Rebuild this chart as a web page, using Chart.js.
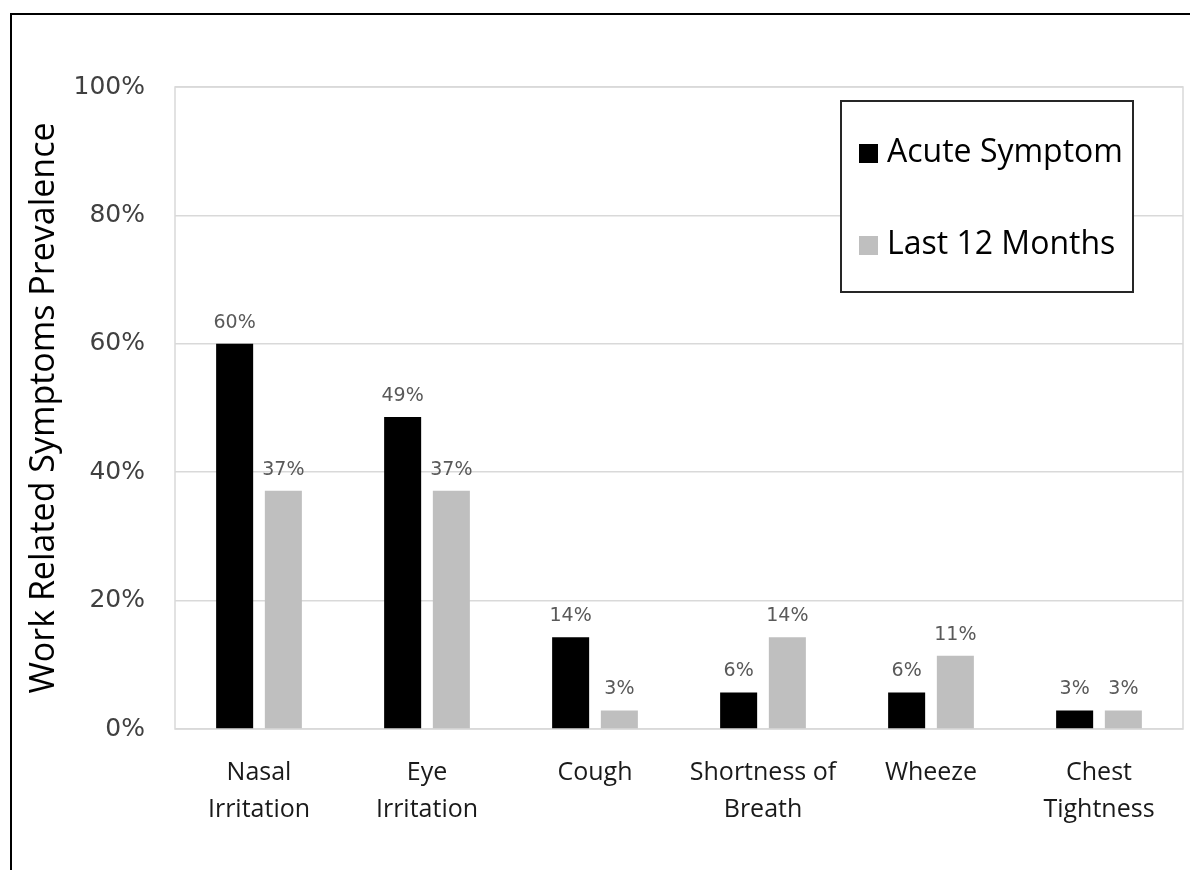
<!DOCTYPE html>
<html lang="en">
<head>
    <meta charset="UTF-8">
    <title>Work Related Symptoms Prevalence</title>
    <script src="https://cdn.jsdelivr.net/npm/chart.js"></script>
    <style>
        html, body { margin: 0; padding: 0; overflow: hidden; background: #fff; }
        #wrap { position: relative; width: 1190px; height: 870px; }
        #frame { position: absolute; left: 10px; top: 13px; width: 1300px; height: 1000px;
                 border-left: 2px solid #000; border-top: 2px solid #000; pointer-events: none; }
    </style>
</head>
<body>
    <div id="wrap">
        <canvas id="symptomChart" width="1190" height="870"></canvas>
        <div id="frame"></div>
    </div>

    <script>
        // categories and series (percent)
        const categories = [
            ['Nasal', 'Irritation'],
            ['Eye', 'Irritation'],
            'Cough',
            ['Shortness of', 'Breath'],
            'Wheeze',
            ['Chest', 'Tightness']
        ];
        const acuteSymptom = [60.0, 48.6, 14.3, 5.7, 5.7, 2.9];
        const last12Months = [37.1, 37.1, 2.9, 14.3, 11.4, 2.9];
        const seriesNames = ['Acute Symptom', 'Last 12 Months'];
        const yTicks = [0, 20, 40, 60, 80, 100];

        // light frame around the plot area
        const plotFrame = {
            id: 'plotFrame',
            beforeDatasetsDraw(chart) {
                const { ctx, chartArea: a } = chart;
                ctx.save();
                ctx.strokeStyle = '#d9d9d9';
                ctx.lineWidth = 1.5;
                ctx.strokeRect(a.left, a.top, a.right - a.left, a.bottom - a.top);
                ctx.restore();
            }
        };

        // value labels above each bar
        const barLabels = {
            id: 'barLabels',
            afterDatasetsDraw(chart) {
                const ctx = chart.ctx;
                ctx.save();
                ctx.font = '19px "DejaVu Sans"';
                ctx.fillStyle = '#595959';
                ctx.textAlign = 'center';
                ctx.textBaseline = 'alphabetic';
                chart.data.datasets.forEach((ds, i) => {
                    chart.getDatasetMeta(i).data.forEach((bar, j) => {
                        ctx.fillText(Math.round(ds.data[j]) + '%', bar.x, bar.y - 16);
                    });
                });
                ctx.restore();
            }
        };

        // boxed legend inside the plot, like the original
        const boxLegend = {
            id: 'boxLegend',
            afterDraw(chart) {
                const { ctx, chartArea: a } = chart;
                const x = a.right - 342, y = a.top + 14, w = 292, h = 191;
                ctx.save();
                ctx.fillStyle = '#fff';
                ctx.fillRect(x, y, w, h);
                ctx.strokeStyle = '#262626';
                ctx.lineWidth = 2;
                ctx.strokeRect(x, y, w, h);
                ctx.font = '32px "Open Sans"';
                ctx.textBaseline = 'middle';
                chart.data.datasets.forEach((ds, i) => {
                    const cy = y + 52 + i * 92;
                    ctx.fillStyle = ds.backgroundColor;
                    ctx.fillRect(x + 18, cy - 9, 19, 19);
                    ctx.fillStyle = '#000';
                    ctx.fillText(ds.label, x + 46, cy);
                });
                ctx.restore();
            }
        };

        const ctx = document.getElementById('symptomChart').getContext('2d');
        new Chart(ctx, {
            type: 'bar',
            data: {
                labels: categories,
                datasets: [
                    { label: seriesNames[0], data: acuteSymptom, backgroundColor: '#000000' },
                    { label: seriesNames[1], data: last12Months, backgroundColor: '#bfbfbf' }
                ]
            },
            options: {
                responsive: false,
                animation: false,
                layout: { padding: { top: 87, right: 7, left: 0, bottom: 0 } },
                datasets: { bar: { barPercentage: 0.76, categoryPercentage: 0.58 } },
                plugins: {
                    legend: { display: false },
                    tooltip: { enabled: false }
                },
                scales: {
                    x: {
                        grid: { display: false, drawTicks: false },
                        border: { display: false },
                        ticks: {
                            color: '#1a1a1a',
                            font: { family: 'Open Sans', size: 25, lineHeight: 1.45 },
                            padding: 26,
                            maxRotation: 0,
                            autoSkip: false
                        },
                        afterFit(scale) { scale.height = 141; }
                    },
                    y: {
                        min: 0,
                        max: 100,
                        afterBuildTicks(scale) { scale.ticks = yTicks.map(v => ({ value: v })); },
                        grid: { color: '#d9d9d9', lineWidth: 1.5, drawTicks: false },
                        border: { display: false },
                        ticks: {
                            color: '#404040',
                            font: { family: 'DejaVu Sans', size: 25 },
                            padding: 30,
                            callback: v => v + '%'
                        },
                        title: {
                            display: true,
                            text: 'Work Related Symptoms Prevalence',
                            color: '#000',
                            font: { family: 'Open Sans', size: 34 },
                            padding: { top: 24, bottom: 0 }
                        },
                        afterFit(scale) { scale.width = 175; }
                    }
                }
            },
            plugins: [plotFrame, barLabels, boxLegend]
        });
    </script>
</body>
</html>
